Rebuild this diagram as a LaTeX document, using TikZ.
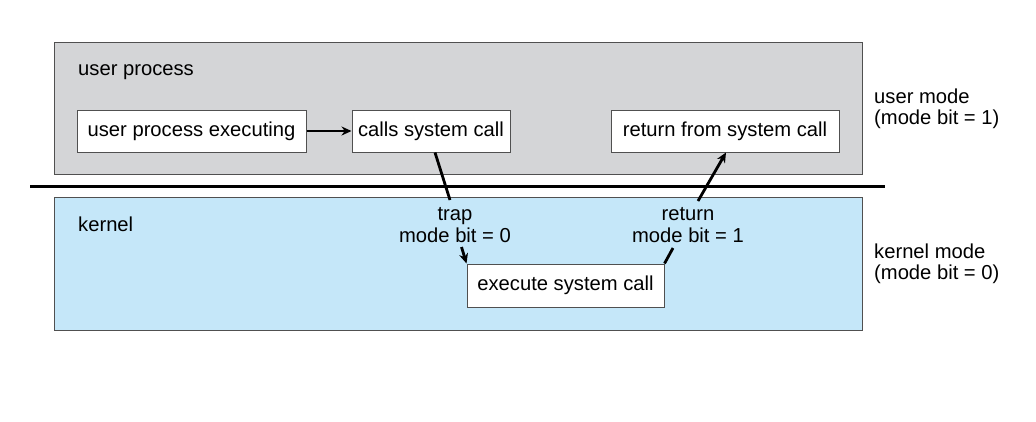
\documentclass[tikz,border=0pt]{standalone}
\usepackage{fontspec}
\setmainfont{Liberation Sans}
\usetikzlibrary{arrows.meta}
\definecolor{userfill}{HTML}{D4D5D7}
\definecolor{kernfill}{HTML}{C5E7F9}
\definecolor{frame}{HTML}{505050}
\begin{document}
\begin{tikzpicture}[x=1pt,y=-1pt, font=\fontsize{20.2}{22}\selectfont,
  region/.style={draw=frame, line width=1pt},
  stepbox/.style={draw=frame, fill=white, line width=1pt, minimum height=42pt,
    inner sep=0pt, text height=14pt, text depth=4pt, anchor=center},
  conn/.style={line width=2.8pt, black},
  arr/.style={conn, -{Stealth[length=10pt,width=9pt]}},
  lbl/.style={inner sep=0pt, anchor=base west},
  clbl/.style={inner sep=0pt, anchor=base}]
\useasboundingbox (0,0) rectangle (1036,421);
% regions
\draw[region, fill=userfill] (54,42) rectangle (862,174);
\draw[region, fill=kernfill] (54,197) rectangle (862,330);
\draw[line width=2.4pt] (30,186.5) -- (885,186.5);
% region labels
\node[lbl] (up) at (78,75) {user process};
\node[lbl] (kn) at (78,231) {kernel};
\node[lbl] (um1) at (874,103) {user mode};
\node[lbl] (um2) at (874,124) {(mode bit = 1)};
\node[lbl] (km1) at (874,258) {kernel mode};
\node[lbl] (km2) at (874,279) {(mode bit = 0)};
% boxes
\node[stepbox, minimum width=229pt] (exec) at (191.5,131) {user process executing};
\node[stepbox, minimum width=158pt] (calls) at (431,131) {calls system call};
\node[stepbox, minimum width=228pt] (ret) at (725,131) {return from system call};
\node[stepbox, minimum width=197pt, minimum height=43pt] (run) at (565.5,285.5) {execute system call};
% connector labels
\node[clbl] (trap1) at (455,220) {trap};
\node[clbl] (trap2) at (455,242) {mode bit = 0};
\node[clbl] (ret1) at (688,220) {return};
\node[clbl] (ret2) at (688,242) {mode bit = 1};
% connectors
\coordinate (t1) at (450,200);
\coordinate (t2) at (461.5,247);
\coordinate (r1) at (698,201);
\coordinate (r2) at (673,248);
\draw[arr] (exec.east) -- (calls.west);
\draw[conn] ([xshift=4pt]calls.south) -- (t1);
\draw[arr] (t2) -- (run.north west);
\draw[conn] (run.north east) -- (r2);
\draw[arr] (r1) -- ([xshift=1pt]ret.south);
\end{tikzpicture}
\end{document}
